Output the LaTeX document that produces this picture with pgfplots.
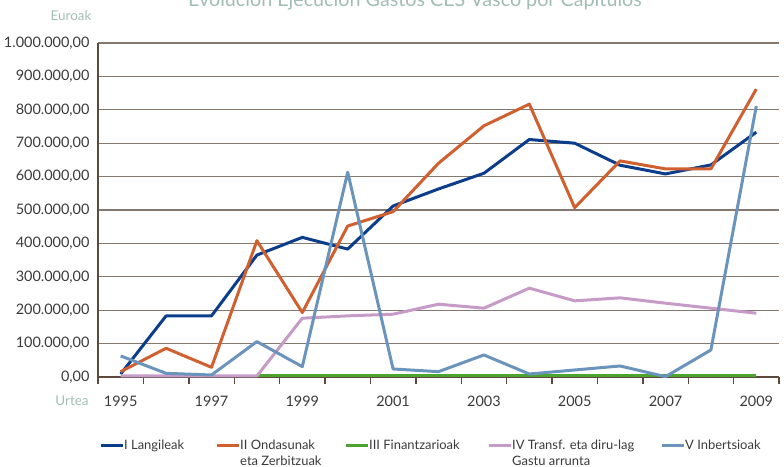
\documentclass[border=0pt]{standalone}
\usepackage{pgfplots}
\usepackage{pgfplotstable}
\pgfplotsset{compat=1.18}
\usepackage{fontspec}
\setmainfont{Lato}
\definecolor{cI}{HTML}{0B3D8A}
\definecolor{cII}{HTML}{D0602F}
\definecolor{cIII}{HTML}{4CA330}
\definecolor{cIV}{HTML}{C69BC8}
\definecolor{cV}{HTML}{6B94BD}
\definecolor{gridc}{HTML}{85786F}
\definecolor{axc}{HTML}{5E4A3C}
\definecolor{titc}{HTML}{A2BDB2}
\definecolor{tickc}{HTML}{3A3A3A}

\pgfplotstableread{
x I II III IV V
0 9000 16000 nan 3000 63000
1 183000 86000 nan 3000 11000
2 183000 29000 nan 3000 6000
3 365000 408000 4000 3000 106000
4 418000 193000 4000 176000 31000
5 383000 452000 4000 183000 613000
6 512000 495000 4000 188000 24000
7 563000 640000 4000 218000 16000
8 610000 752000 4000 206000 66000
9 711000 817000 4000 266000 9000
10 700000 507000 4000 228000 21000
11 634000 647000 4000 237000 33000
12 608000 623000 4000 221000 1000
13 635000 623000 4000 206000 81000
14 733000 862000 4000 191000 811000
}\datatable

\begin{document}
\begin{tikzpicture}
\begin{axis}[
  scale only axis, width=681bp, height=334bp,
  at={(98bp,90bp)}, anchor=south west,
  xmin=-0.5, xmax=14.5, ymin=0, ymax=1000000,
  clip=false,
  axis lines=left,
  axis line style={axc, line width=1.1bp, -},
  xtick={-0.5,0.5,...,14.5},
  xticklabels={1995,,1997,,1999,,2001,,2003,,2005,,2007,,2009,},
  xtick pos=bottom, xtick align=outside,
  every tick/.style={axc, line width=1.4bp},
  x tick label style={xshift=22.7bp, yshift=-8.5bp},
  ytick pos=left, ytick align=inside,
  major tick length=7bp,
  ytick={0,100000,...,1000000},
  y tick style={draw=none},
  ymajorgrids, grid style={gridc, line width=1.1bp},
  scaled y ticks=false,
  /pgf/number format/assume math mode=true,
  yticklabel style={/pgf/number format/fixed, /pgf/number format/fixed zerofill,
    /pgf/number format/precision=2, /pgf/number format/use comma,
    /pgf/number format/1000 sep={.}},
  y tick label style={xshift=-5bp},
  tick label style={font=\fontsize{14.5}{17}\selectfont, text=tickc},
  legend columns=5,
  legend style={at={(0.0015,-0.2036)}, anchor=west, draw=none, fill=none, inner sep=0pt,
    font=\fontsize{13}{15.5}\selectfont, text=tickc,
    nodes={text depth=0pt, anchor=west, inner xsep=0pt},
    /tikz/every even column/.append style={column sep=6bp},
    /tikz/every odd column/.append style={column sep=0bp}},
  legend image code/.code={\draw[#1] (0bp,0bp) -- (22bp,0bp);},
  every axis plot/.append style={line join=round},
]
\addplot[ycomb, axc, line width=1.4bp, mark=none, forget plot] coordinates {
(-0.5,-21000) (0.5,-21000) (1.5,-21000) (2.5,-21000) (3.5,-21000) (4.5,-21000)
(5.5,-21000) (6.5,-21000) (7.5,-21000) (8.5,-21000) (9.5,-21000) (10.5,-21000)
(11.5,-21000) (12.5,-21000) (13.5,-21000) (14.5,-21000)};
\addplot[cI, line width=3bp, mark=none] table[x=x, y=I] {\datatable};
\addlegendentry{\makebox[85bp][l]{I Langileak}}
\addplot[cII, line width=3bp, mark=none] table[x=x, y=II] {\datatable};
\addlegendentry{\makebox[98bp][l]{\vtop{\hbox{II Ondasunak}\hbox{eta Zerbitzuak}}}}
\addplot[cIII, line width=3bp, mark=none] table[x=x, y=III] {\datatable};
\addlegendentry{\makebox[112bp][l]{III Finantzarioak}}
\addplot[cIV, line width=3bp, mark=none] table[x=x, y=IV] {\datatable};
\addlegendentry{\makebox[142bp][l]{\vtop{\hbox{IV Transf. eta diru-lag}\hbox{Gastu arrunta}}}}
\addplot[cV, line width=3bp, mark=none] table[x=x, y=V] {\datatable};
\addlegendentry{V Inbertsioak}
\end{axis}
\node[anchor=base, font=\fontsize{19.8}{22}\selectfont, text=titc] at (415bp,460bp) {Evolución Ejecución Gastos CES Vasco por Capítulos};
\node[font=\fontsize{13.5}{15}\selectfont, text=titc] at (71bp,451bp) {Euroak};
\node[font=\fontsize{13.5}{15}\selectfont, text=titc] at (72bp,66bp) {Urtea};
\pgfresetboundingbox
\path[use as bounding box] (0,0) rectangle (784bp,467bp);
\end{tikzpicture}
\end{document}
